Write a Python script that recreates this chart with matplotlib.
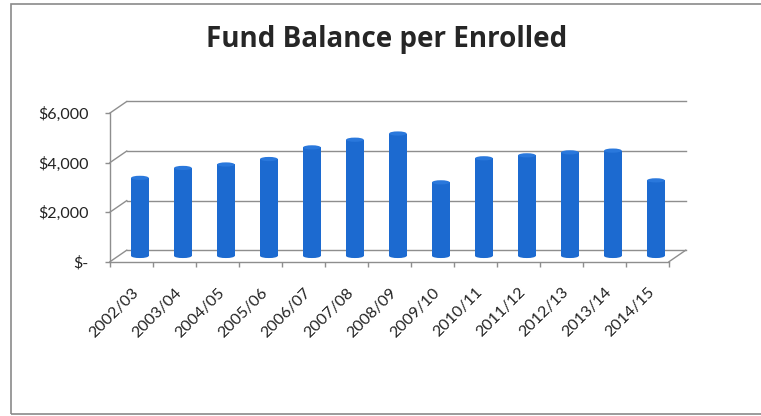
import matplotlib
matplotlib.use("Agg")
import matplotlib.pyplot as plt
from matplotlib.patches import Ellipse, Rectangle

years = ["2002/03", "2003/04", "2004/05", "2005/06", "2006/07", "2007/08", "2008/09",
         "2009/10", "2010/11", "2011/12", "2012/13", "2013/14", "2014/15"]
balance = [3150, 3550, 3690, 3910, 4380, 4690, 4940, 2970, 3940, 4060, 4180, 4250, 3050]
y_ticks = [0, 2000, 4000, 6000]
y_labels = ["$-", "$2,000", "$4,000", "$6,000"]

plt.rcParams["font.family"] = ["Lato", "DejaVu Sans"]

W, H = 761, 416
fig = plt.figure(figsize=(W / 100, H / 100), dpi=100)
fig.patch.set_facecolor("white")

# chart-area frame
fig.patches.append(Rectangle((11 / W, 2 / H), 1.0, 1 - 6 / H, transform=fig.transFigure,
                             fill=False, edgecolor="#8a8a8a", lw=1.2, zorder=0))

fig.text(387 / W, 1 - 40 / H, "Fund Balance per Enrolled", ha="center", va="center",
         fontsize=20, fontweight="bold", color="#262626", family=["Open Sans", "DejaVu Sans"])

left, right = 110 / W, 669 / W
bottom, top = 1 - 261.7 / H, 1 - 113 / H
ax = fig.add_axes([left, bottom, right - left, top - bottom])
n = len(years)
ax.set_xlim(-0.5, n - 0.5)
ax.set_ylim(0, 6000)
ax.set_facecolor("none")

grid_c = "#8e8e8e"
for s in ["top", "right"]:
    ax.spines[s].set_visible(False)
for s in ["left", "bottom"]:
    ax.spines[s].set_color(grid_c)
    ax.spines[s].set_linewidth(1.0)

# depth of the pseudo-3D floor/wall in data units
DX, DY = 0.39, 465

x0, x1 = -0.5, n - 0.5
for v in y_ticks:
    ax.plot([x0 + DX, x1 + DX], [v + DY, v + DY], color=grid_c, lw=1.0, clip_on=False, zorder=1)
    ax.plot([x0, x0 + DX], [v, v + DY], color=grid_c, lw=1.0, clip_on=False, zorder=1)
ax.plot([x1, x1 + DX], [0, DY], color=grid_c, lw=1.0, clip_on=False, zorder=1)

# cylinder-style columns at mid depth
bar_c = "#1c6ad0"
bw = 0.41
xs = [i + DX / 2 for i in range(n)]
ax.bar(xs, balance, width=bw, bottom=DY / 2, color=bar_c, zorder=3, clip_on=False)
cap_h = 170
for x, v in zip(xs, balance):
    ax.add_patch(Ellipse((x, v + DY / 2), bw, cap_h, facecolor="#2a78dc", edgecolor="none",
                         zorder=4, clip_on=False))
    ax.add_patch(Ellipse((x, DY / 2), bw, cap_h, facecolor=bar_c, edgecolor="none",
                         zorder=3, clip_on=False))

ax.set_yticks(y_ticks)
ax.set_yticklabels(y_labels)
ax.tick_params(axis="y", direction="out", length=3.6, color=grid_c, width=1.0,
               labelsize=11.5, labelcolor="#222222", pad=12)

ax.set_xticks(range(n))
ax.set_xticklabels(years, rotation=45, ha="right", rotation_mode="anchor")
ax.set_xticks([i - 0.5 for i in range(n + 1)], minor=True)
ax.tick_params(axis="x", which="major", length=0, labelsize=11.5, labelcolor="#222222", pad=17)
ax.tick_params(axis="x", which="minor", direction="out", length=3.6, color=grid_c, width=1.0)

fig.savefig("out.png", dpi=100)
